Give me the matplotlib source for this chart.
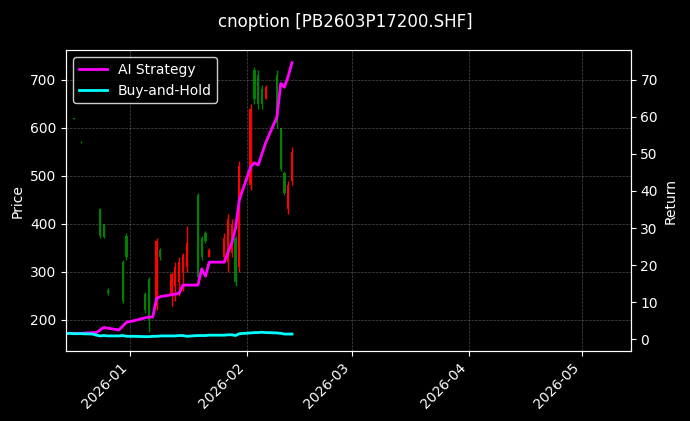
import numpy as np
import pandas as pd
import matplotlib
matplotlib.use("Agg")
import matplotlib.pyplot as plt
import matplotlib.dates as mdates

plt.style.use("dark_background")

# Candles (open, high, low, close)
candle_dates = pd.to_datetime([
    "2025-12-17", "2025-12-19", "2025-12-24", "2025-12-25", "2025-12-26", "2025-12-30", "2025-12-31",
    "2026-01-05", "2026-01-06", "2026-01-08", "2026-01-09", "2026-01-12", "2026-01-13", "2026-01-14",
    "2026-01-15", "2026-01-16", "2026-01-19", "2026-01-20", "2026-01-21", "2026-01-22", "2026-01-26",
    "2026-01-27", "2026-01-28", "2026-01-29", "2026-01-30", "2026-02-02", "2026-02-03", "2026-02-04",
    "2026-02-05", "2026-02-06", "2026-02-09", "2026-02-10", "2026-02-11", "2026-02-12", "2026-02-13"])
opens  = [620, 571, 430, 400, 262, 320, 375, 255, 285, 230, 345, 250, 270, 280, 300, 310, 460, 370, 380, 330, 330,
          320, 340, 370, 310, 480, 720, 710, 680, 660, 710, 600, 505, 430, 490]
highs  = [621, 572, 433, 400, 267, 325, 381, 258, 290, 371, 350, 300, 320, 330, 340, 395, 465, 375, 385, 350, 380,
          420, 410, 375, 530, 650, 727, 720, 690, 690, 720, 600, 510, 490, 560]
lows   = [618, 569, 371, 371, 252, 235, 325, 215, 175, 221, 325, 230, 240, 250, 260, 300, 277, 325, 360, 330, 320,
          300, 330, 270, 300, 470, 650, 640, 640, 660, 600, 510, 460, 420, 480]
closes = [619, 570, 375, 372, 257, 240, 330, 220, 200, 365, 330, 295, 310, 320, 335, 360, 290, 330, 365, 345, 370,
          410, 400, 280, 520, 640, 660, 650, 650, 685, 610, 515, 465, 480, 550]

# Cumulative returns (%) per trading day
ret_dates = pd.to_datetime([
    "2025-12-15", "2025-12-16", "2025-12-17", "2025-12-18", "2025-12-19", "2025-12-22", "2025-12-23",
    "2025-12-24", "2025-12-25", "2025-12-26", "2025-12-29", "2025-12-30", "2025-12-31", "2026-01-02",
    "2026-01-05", "2026-01-06", "2026-01-07", "2026-01-08", "2026-01-09", "2026-01-12", "2026-01-13",
    "2026-01-14", "2026-01-15", "2026-01-16", "2026-01-19", "2026-01-20", "2026-01-21", "2026-01-22",
    "2026-01-23", "2026-01-26", "2026-01-27", "2026-01-28", "2026-01-29", "2026-01-30", "2026-02-02",
    "2026-02-03", "2026-02-04", "2026-02-05", "2026-02-06", "2026-02-09", "2026-02-10", "2026-02-11",
    "2026-02-12", "2026-02-13"])
ai_strategy = [1.6, 1.6, 1.6, 1.6, 1.6, 1.8, 1.8, 2.5, 3.2, 3.0, 2.5, 3.5, 4.6, 5.0, 5.8, 6.0, 6.0, 11.0, 11.5,
               12.0, 12.2, 12.4, 14.6, 14.6, 14.6, 19.0, 17.0, 20.8, 20.8, 20.8, 23.5, 26.0, 30.0, 37.6, 46.5,
               47.6, 47.0, 50.0, 53.0, 60.0, 69.0, 68.0, 71.0, 74.6]
buy_hold = [1.5, 1.6, 1.5, 1.5, 1.5, 1.4, 1.1, 0.9, 1.0, 0.9, 0.9, 1.0, 0.8, 0.8, 0.7, 0.7, 0.8, 0.8, 0.9,
            0.9, 0.9, 1.0, 1.0, 0.8, 1.0, 1.0, 1.0, 1.1, 1.1, 1.1, 1.2, 1.2, 1.0, 1.5, 1.7, 1.8, 1.8, 1.9,
            1.8, 1.7, 1.6, 1.4, 1.4, 1.4]

fig = plt.figure(figsize=(6.9, 4.21), dpi=100, facecolor="black")
ax = fig.add_axes([0.096, 0.166, 0.818, 0.715])
ax.set_facecolor("black")

x = mdates.date2num(candle_dates)
colors = ["red" if c >= o else "green" for o, c in zip(opens, closes)]
ax.vlines(x, lows, highs, colors=colors, linewidth=1)
bottoms = np.minimum(opens, closes)
heights = np.maximum(np.abs(np.array(closes) - np.array(opens)), 1)
ax.bar(x, heights, bottom=bottoms, width=0.6, color=colors, linewidth=0)

ax.set_ylim(135, 762)
ax.set_xlim(mdates.date2num(pd.Timestamp("2025-12-15")), mdates.date2num(pd.Timestamp("2026-05-14")))
ax.set_ylabel("Price")
ax.grid(True, linestyle="--", linewidth=0.5, color="gray", alpha=0.6)
ax.xaxis.set_major_locator(mdates.MonthLocator())
ax.xaxis.set_major_formatter(mdates.DateFormatter("%Y-%m"))
plt.setp(ax.get_xticklabels(), rotation=45, ha="right")

ax2 = ax.twinx()
ax2.plot(ret_dates, ai_strategy, color="magenta", linewidth=2, label="AI Strategy")
ax2.plot(ret_dates, buy_hold, color="cyan", linewidth=2, label="Buy-and-Hold")
ax2.set_ylim(-3.2, 78)
ax2.set_ylabel("Return")
ax2.legend(loc="upper left", facecolor="black", edgecolor="white")

fig.suptitle("cnoption [PB2603P17200.SHF]", fontsize=12, y=0.97)
fig.savefig("out.png", dpi=100, facecolor="black")
